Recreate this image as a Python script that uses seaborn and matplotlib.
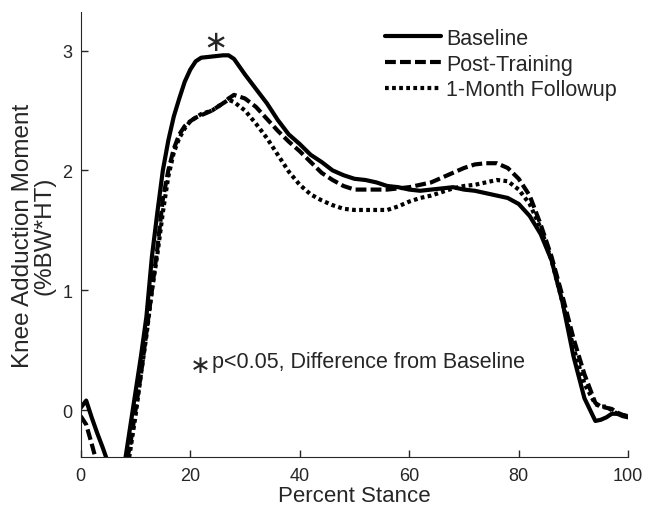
import numpy as np
import pandas as pd
import matplotlib
matplotlib.use("Agg")
import matplotlib.pyplot as plt
import seaborn as sns

# percent stance grid
stance = [0, 1, 2, 3, 4, 5, 6, 7, 8, 9, 10, 11, 12, 13, 14, 15, 16, 17, 18, 19, 20,
          21, 22, 24, 26, 27, 28, 30, 32, 34, 36, 38, 40, 42, 44, 46, 48, 50, 52, 54,
          56, 58, 60, 62, 64, 66, 68, 70, 72, 74, 76, 78, 80, 82, 84, 86, 88, 90, 92,
          94, 95, 96, 97, 98, 99, 100]

baseline = [0.02, 0.08, -0.06, -0.19, -0.31, -0.44, -0.6, -0.65, -0.45, -0.15, 0.15,
            0.45, 0.78, 1.28, 1.65, 2.0, 2.25, 2.45, 2.6, 2.74, 2.84,
            2.91, 2.94, 2.95, 2.96, 2.96, 2.93, 2.8, 2.68, 2.56, 2.42, 2.3, 2.22, 2.13,
            2.07, 2.0, 1.96, 1.93, 1.92, 1.9, 1.87, 1.86, 1.84, 1.83, 1.84, 1.85, 1.86,
            1.84, 1.83, 1.81, 1.79, 1.77, 1.72, 1.62, 1.47, 1.25, 0.9, 0.45, 0.1,
            -0.09, -0.08, -0.06, -0.03, -0.03, -0.05, -0.06]

post_training = [-0.05, -0.12, -0.28, -0.45, -0.6, -0.7, -0.75, -0.7, -0.5, -0.3, 0.0,
                 0.3, 0.65, 1.0, 1.35, 1.76, 2.0, 2.18, 2.3, 2.37, 2.41,
                 2.44, 2.46, 2.5, 2.56, 2.6, 2.63, 2.6, 2.53, 2.43, 2.33, 2.24, 2.16, 2.07,
                 1.98, 1.92, 1.87, 1.84, 1.84, 1.84, 1.84, 1.85, 1.86, 1.88, 1.9, 1.94,
                 1.98, 2.02, 2.05, 2.06, 2.06, 2.02, 1.93, 1.79, 1.55, 1.28, 0.95, 0.6, 0.3,
                 0.06, 0.03, 0.02, 0.01, -0.02, -0.04, -0.05]

followup = [-0.6, -0.65, -0.7, -0.75, -0.8, -0.85, -0.85, -0.8, -0.65, -0.35, -0.05,
            0.3, 0.62, 1.0, 1.3, 1.65, 1.95, 2.15, 2.27, 2.35, 2.41,
            2.44, 2.47, 2.5, 2.56, 2.59, 2.57, 2.5, 2.39, 2.27, 2.13, 1.99, 1.88, 1.8,
            1.75, 1.71, 1.68, 1.67, 1.67, 1.67, 1.67, 1.7, 1.74, 1.77, 1.79, 1.82, 1.85,
            1.87, 1.88, 1.9, 1.92, 1.91, 1.84, 1.72, 1.52, 1.25, 0.9, 0.52, 0.22,
            0.05, 0.03, 0.03, 0.0, -0.03, -0.04, -0.05]

labels = ["Baseline", "Post-Training", "1-Month Followup"]

df = pd.concat([
    pd.DataFrame({"stance": stance, "moment": vals, "group": name})
    for name, vals in zip(labels, [baseline, post_training, followup])
])

sns.set_style("ticks")
plt.rcParams["font.family"] = ["Liberation Sans", "DejaVu Sans"]

fig = plt.figure(figsize=(6.51, 5.06), dpi=100)
ax = fig.add_axes([0.124, 0.095, 0.841, 0.879])

sns.lineplot(data=df, x="stance", y="moment", style="group", color="black",
             dashes={"Baseline": "", "Post-Training": (2.6, 1.0), "1-Month Followup": (0.9, 0.8)},
             linewidth=3, sort=False, ax=ax)

ax.set_xlim(0, 100)
ax.set_ylim(-0.39, 3.32)
ax.set_xticks([0, 20, 40, 60, 80, 100])
ax.set_yticks([0, 1, 2, 3])
ax.tick_params(direction="in", labelsize=13, length=5, width=1, pad=7)
ax.tick_params(axis="y", pad=6)
ax.spines["top"].set_visible(False)
ax.spines["right"].set_visible(False)
ax.set_xlabel("Percent Stance", fontsize=16, labelpad=1)
ax.set_ylabel("Knee Adduction Moment\n(%BW*HT)", fontsize=17.5, labelpad=5, linespacing=0.95)

# significance markers
ax.text(24.6, 3.075, "\u2217", fontsize=21, ha="center", va="center", family="DejaVu Sans")
ax.text(21.8, 0.38, "\u2217", fontsize=18, ha="center", va="center", family="DejaVu Sans")
ax.text(24.0, 0.41, "p<0.05, Difference from Baseline", fontsize=15.5, ha="left", va="center")

leg = ax.legend(loc="upper right", frameon=False, fontsize=15.5, handlelength=2.6,
                handletextpad=0.25, labelspacing=0.22, bbox_to_anchor=(1.015, 1.008))
for line in leg.get_lines():
    line.set_linewidth(3)

fig.savefig("out.png", dpi=100)
